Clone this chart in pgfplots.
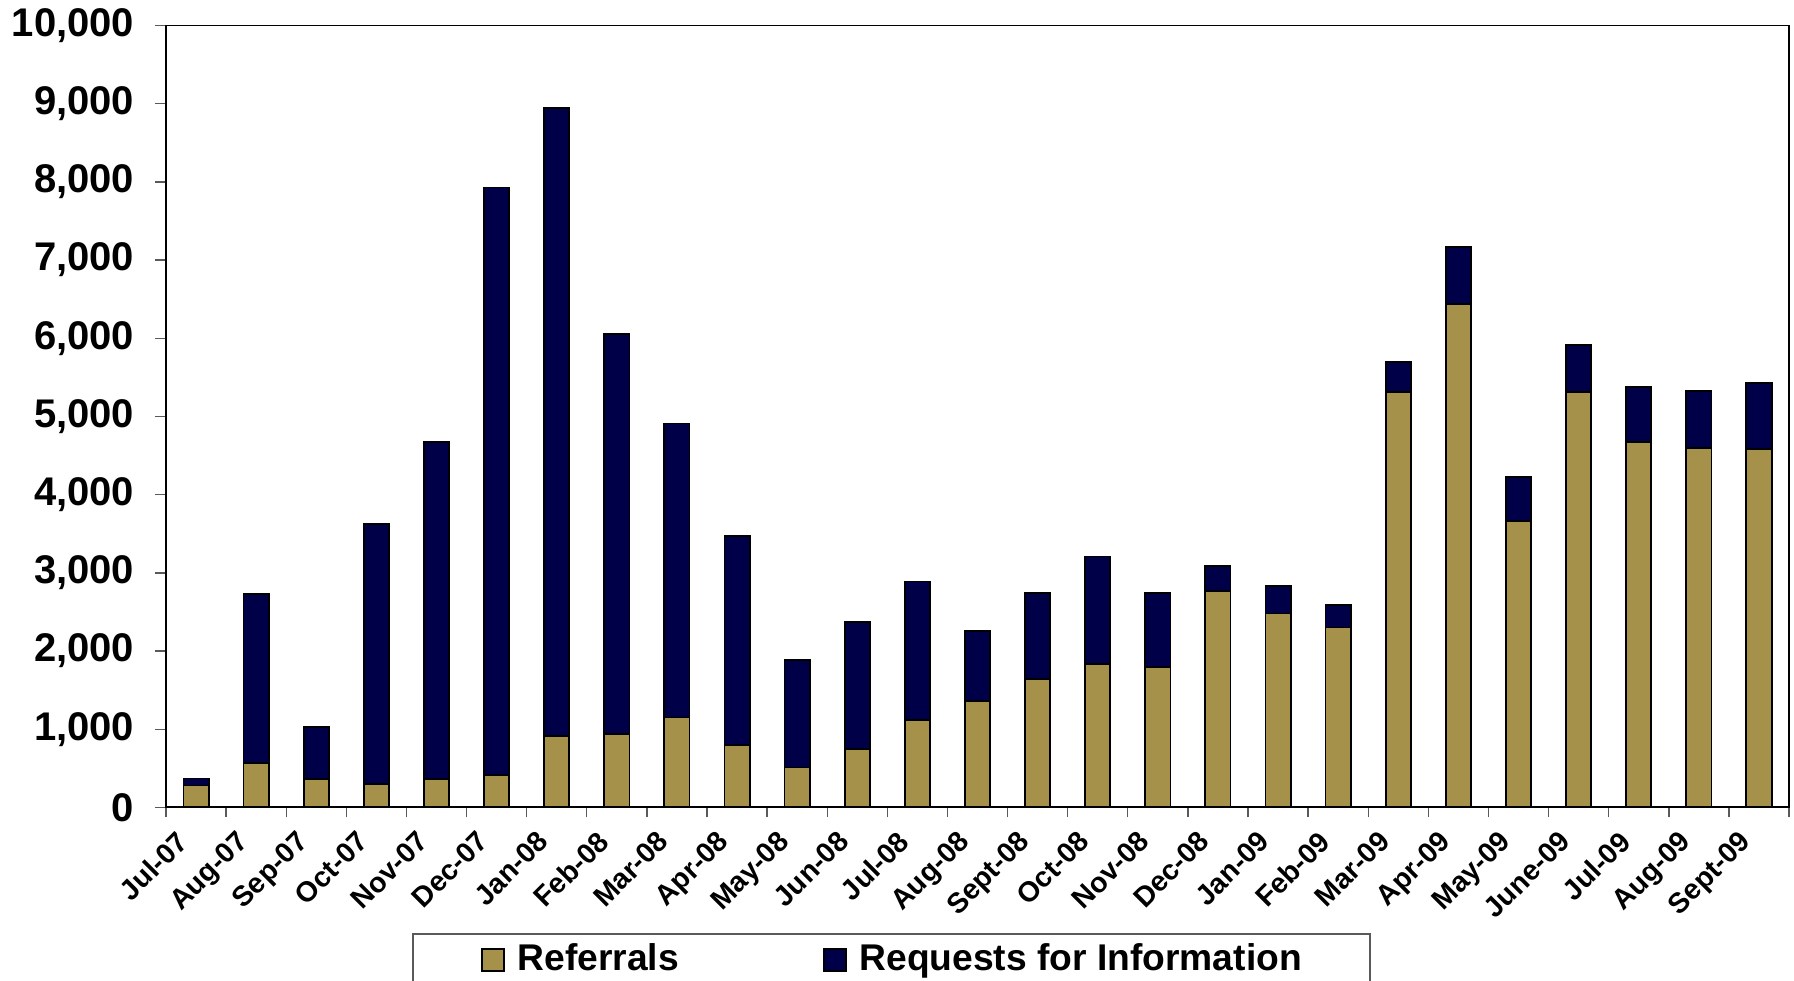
\documentclass[border=0pt]{standalone}
\usepackage{fontspec}
\setmainfont{Liberation Sans}
\usepackage{pgfplots}
\pgfplotsset{compat=1.18}
\definecolor{tanbar}{RGB}{166,145,74}
\definecolor{navybar}{RGB}{0,0,72}
\definecolor{tickgray}{RGB}{90,90,90}
\begin{document}
\begin{tikzpicture}
\begin{axis}[
  scale only axis, width=405.75pt, height=195.45pt,
  xmin=-0.5, xmax=26.5, ymin=0, ymax=10000,
  ybar stacked, bar width=0.42,
  axis line style={line width=0.45pt, black},
  tick pos=left,
  xtick={0,...,26},
  xticklabels={Jul-07,Aug-07,Sep-07,Oct-07,Nov-07,Dec-07,Jan-08,Feb-08,Mar-08,Apr-08,May-08,Jun-08,Jul-08,Aug-08,Sept-08,Oct-08,Nov-08,Dec-08,Jan-09,Feb-09,Mar-09,Apr-09,May-09,June-09,Jul-09,Aug-09,Sept-09},
  minor xtick={-0.5,0.5,...,26.5},
  ytick={0,1000,...,10000},
  tick align=outside,
  major tick length=2.75pt, minor tick length=2.5pt,
  major x tick style={draw=none},
  minor x tick style={line width=0.35pt, tickgray},
  y tick style={line width=0.35pt, tickgray},
  scaled y ticks=false,
  /pgf/number format/assume math mode=true,
  /pgf/number format/1000 sep={,},
  yticklabel style={font=\fontsize{10}{10}\selectfont\bfseries, inner sep=0pt, xshift=-5pt},
  xticklabel style={font=\fontsize{7.1}{8}\selectfont\bfseries, inner sep=0pt, anchor=north east, xshift=-5.25pt, yshift=-2.5pt, rotate=45},
  legend columns=2,
  legend style={at={(0.1516,0)}, anchor=north west, yshift=-31.3pt,
    draw=tickgray, line width=0.5pt,
    font=\fontsize{9.3}{10}\selectfont\bfseries,
    inner xsep=17pt, inner ysep=2.5pt,
    nodes={inner sep=0pt},
    /tikz/every even column/.append style={column sep=36pt},
    /tikz/every odd column/.append style={column sep=3.25pt}},
  legend image code/.code={\draw[#1, line width=0.4pt] (0pt,-2.75pt) rectangle (5.5pt,2.75pt);},
]
\addplot[fill=tanbar, draw=black, line width=0.45pt] coordinates {
(0,280) (1,570) (2,360) (3,300) (4,360) (5,410) (6,910) (7,940) (8,1150) (9,800)
(10,510) (11,750) (12,1120) (13,1360) (14,1645) (15,1830) (16,1800) (17,2770) (18,2480) (19,2300)
(20,5310) (21,6440) (22,3660) (23,5310) (24,4670) (25,4600) (26,4580)};
\addplot[fill=navybar, draw=black, line width=0.45pt] coordinates {
(0,90) (1,2160) (2,670) (3,3320) (4,4310) (5,7520) (6,8040) (7,5120) (8,3760) (9,2670)
(10,1380) (11,1620) (12,1770) (13,900) (14,1095) (15,1380) (16,940) (17,320) (18,350) (19,290)
(20,390) (21,730) (22,570) (23,600) (24,710) (25,730) (26,850)};
\legend{Referrals, Requests for Information}
\coordinate (ll) at (rel axis cs:0,0);
\coordinate (ur) at (rel axis cs:1,1);
\end{axis}
\pgfresetboundingbox
\path[use as bounding box] ([xshift=-41.5pt,yshift=-43.4pt]ll) rectangle ([xshift=1.25pt,yshift=6.4pt]ur);
\end{tikzpicture}
\end{document}
